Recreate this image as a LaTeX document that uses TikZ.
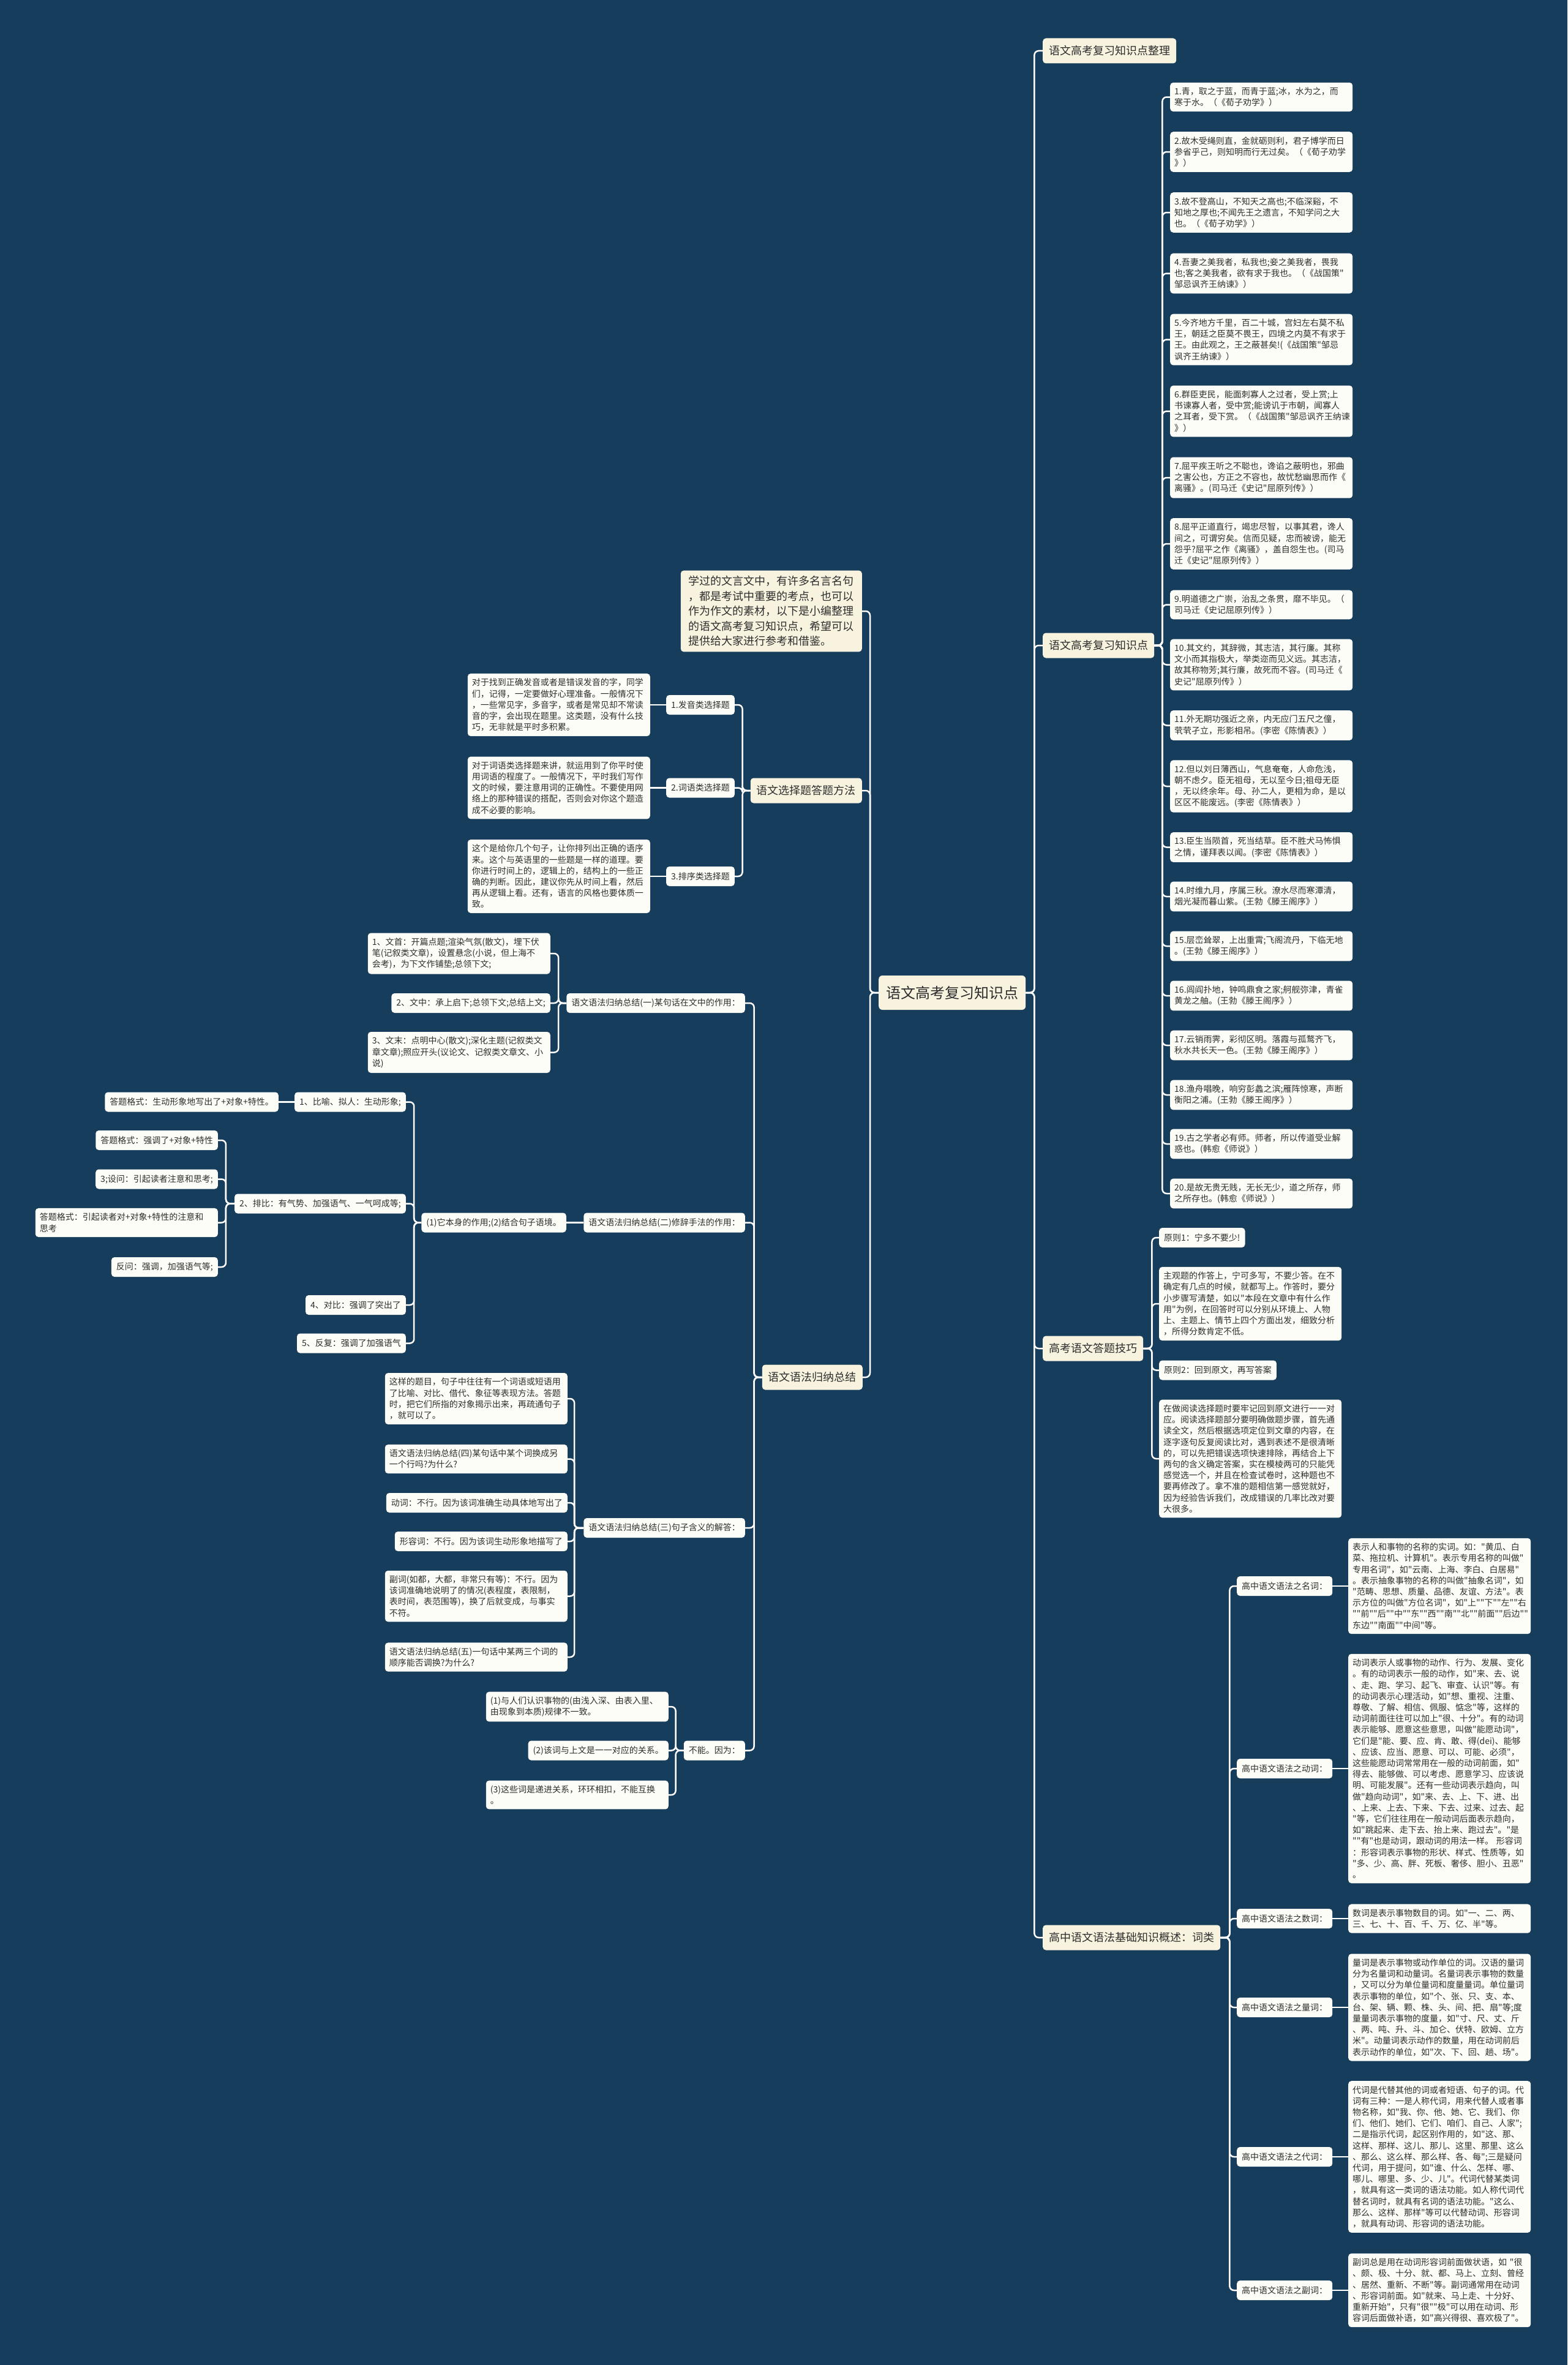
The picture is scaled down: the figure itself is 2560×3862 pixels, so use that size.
\documentclass[tikz,border=0pt]{standalone}
\usepackage{fontspec}
\setmainfont{Noto Sans CJK SC}[Ligatures=TeXOff]
\definecolor{bgcol}{RGB}{22,61,92}
\definecolor{creamcol}{RGB}{248,243,223}
\definecolor{leafcol}{RGB}{253,253,248}
\definecolor{txtcol}{RGB}{45,45,45}

\begin{document}
\begin{tikzpicture}[x=1pt, y=-1pt,
    link/.style={draw=white, line width=2.5pt, rounded corners=7pt},
    rootbox/.style={fill=creamcol, text=txtcol, rounded corners=6pt, font=\fontsize{24}{28}\selectfont, minimum height=56pt, inner xsep=12pt},
    mainbox/.style={fill=creamcol, text=txtcol, rounded corners=5pt, font=\fontsize{18}{22}\selectfont, minimum height=41pt, inner xsep=10pt},
    introbox/.style={fill=creamcol, text=txtcol, rounded corners=5pt, font=\fontsize{18}{24.5}\selectfont, align=left, inner xsep=13pt, inner ysep=9pt},
    tagbox/.style={fill=leafcol, text=txtcol, rounded corners=5pt, font=\fontsize{14}{18.2}\selectfont, minimum height=32pt, inner xsep=8pt},
    leafbox/.style={fill=leafcol, text=txtcol, rounded corners=5pt, font=\fontsize{14}{18.2}\selectfont, align=left, text width=284pt, inner xsep=7pt, inner ysep=8pt}]

    % --- 背景 ---
    \fill[bgcol] (0,0) rectangle (2560,3862);
    \useasboundingbox (0,0) rectangle (2560,3862);

    % --- 中心主题 ---
    \node[rootbox, anchor=west] (root) at (1435,1621) {语文高考复习知识点};

    % --- 右侧分支 ---
    \node[mainbox, anchor=west] (b1) at (1703,83) {语文高考复习知识点整理};
    \node[mainbox, anchor=west] (b2) at (1703,1054) {语文高考复习知识点};
    \node[mainbox, anchor=west] (b3) at (1703,2202) {高考语文答题技巧};
    \node[mainbox, anchor=west] (b4) at (1703,3164) {高中语文语法基础知识概述：词类};
    \foreach \b in {b1,b2,b3,b4} \draw[link] (root.east) -- ++(14,0) |- (\b.west);

    % 名句 1-20
    \node[leafbox, anchor=west] (q1) at (1911,158.5) {1.青，取之于蓝，而青于蓝;冰，水为之，而\\寒于水。（《荀子劝学》）};
    \node[leafbox, anchor=west] (q2) at (1911,248) {2.故木受绳则直，金就砺则利，君子博学而日\\参省乎己，则知明而行无过矣。（《荀子劝学\\》）};
    \node[leafbox, anchor=west] (q3) at (1911,347) {3.故不登高山，不知天之高也;不临深谿，不\\知地之厚也;不闻先王之遗言，不知学问之大\\也。（《荀子劝学》）};
    \node[leafbox, anchor=west] (q4) at (1911,446.5) {4.吾妻之美我者，私我也;妾之美我者，畏我\\也;客之美我者，欲有求于我也。（《战国策"\\邹忌讽齐王纳谏》）};
    \node[leafbox, anchor=west] (q5) at (1911,554.5) {5.今齐地方千里，百二十城，宫妇左右莫不私\\王，朝廷之臣莫不畏王，四境之内莫不有求于\\王。由此观之，王之蔽甚矣!(《战国策"邹忌\\讽齐王纳谏》）};
    \node[leafbox, anchor=west] (q6) at (1911,671.5) {6.群臣吏民，能面刺寡人之过者，受上赏;上\\书谏寡人者，受中赏;能谤讥于市朝，闻寡人\\之耳者，受下赏。（《战国策"邹忌讽齐王纳谏\\》）};
    \node[leafbox, anchor=west] (q7) at (1911,780) {7.屈平疾王听之不聪也，谗谄之蔽明也，邪曲\\之害公也，方正之不容也，故忧愁幽思而作《\\离骚》。(司马迁《史记"屈原列传》）};
    \node[leafbox, anchor=west] (q8) at (1911,888) {8.屈平正道直行，竭忠尽智，以事其君，谗人\\间之，可谓穷矣。信而见疑，忠而被谤，能无\\怨乎?屈平之作《离骚》，盖自怨生也。(司马\\迁《史记"屈原列传》）};
    \node[leafbox, anchor=west] (q9) at (1911,987.5) {9.明道德之广崇，治乱之条贯，靡不毕见。（\\司马迁《史记屈原列传》）};
    \node[leafbox, anchor=west] (q10) at (1911,1085.5) {10.其文约，其辞微，其志洁，其行廉。其称\\文小而其指极大，举类迩而见义远。其志洁，\\故其称物芳;其行廉，故死而不容。(司马迁《\\史记"屈原列传》）};
    \node[leafbox, anchor=west] (q11) at (1911,1184.5) {11.外无期功强近之亲，内无应门五尺之僮，\\茕茕孑立，形影相吊。(李密《陈情表》）};
    \node[leafbox, anchor=west] (q12) at (1911,1284) {12.但以刘日薄西山，气息奄奄，人命危浅，\\朝不虑夕。臣无祖母，无以至今日;祖母无臣\\，无以终余年。母、孙二人，更相为命，是以\\区区不能废远。(李密《陈情表》）};
    \node[leafbox, anchor=west] (q13) at (1911,1383.5) {13.臣生当陨首，死当结草。臣不胜犬马怖惧\\之情，谨拜表以闻。(李密《陈情表》）};
    \node[leafbox, anchor=west] (q14) at (1911,1464) {14.时维九月，序属三秋。潦水尽而寒潭清，\\烟光凝而暮山紫。(王勃《滕王阁序》）};
    \node[leafbox, anchor=west] (q15) at (1911,1545) {15.层峦耸翠，上出重霄;飞阁流丹，下临无地\\。(王勃《滕王阁序》）};
    \node[leafbox, anchor=west] (q16) at (1911,1626) {16.闾阎扑地，钟鸣鼎食之家;舸舰弥津，青雀\\黄龙之舳。(王勃《滕王阁序》）};
    \node[leafbox, anchor=west] (q17) at (1911,1707) {17.云销雨霁，彩彻区明。落霞与孤鹜齐飞，\\秋水共长天一色。(王勃《滕王阁序》）};
    \node[leafbox, anchor=west] (q18) at (1911,1788) {18.渔舟唱晚，响穷彭蠡之滨;雁阵惊寒，声断\\衡阳之浦。(王勃《滕王阁序》）};
    \node[leafbox, anchor=west] (q19) at (1911,1868) {19.古之学者必有师。师者，所以传道受业解\\惑也。(韩愈《师说》）};
    \node[leafbox, anchor=west] (q20) at (1911,1949) {20.是故无贵无贱，无长无少，道之所存，师\\之所存也。(韩愈《师说》）};
    \foreach \i in {1,...,20} \draw[link] (b2.east) -- ++(13,0) |- (q\i.west);

    % 答题技巧
    \node[tagbox, anchor=west] (r1) at (1893,2021) {原则1：宁多不要少!};
    \node[leafbox, anchor=west] (r2) at (1893,2129) {主观题的作答上，宁可多写，不要少答。在不\\确定有几点的时候，就都写上。作答时，要分\\小步骤写清楚，如以"本段在文章中有什么作\\用"为例，在回答时可以分别从环境上、人物\\上、主题上、情节上四个方面出发，细致分析\\，所得分数肯定不低。};
    \node[tagbox, anchor=west] (r3) at (1893,2237.5) {原则2：回到原文，再写答案};
    \node[leafbox, anchor=west] (r4) at (1893,2382) {在做阅读选择题时要牢记回到原文进行一一对\\应。阅读选择题部分要明确做题步骤，首先通\\读全文，然后根据选项定位到文章的内容，在\\逐字逐句反复阅读比对，遇到表述不是很清晰\\的，可以先把错误选项快速排除，再结合上下\\两句的含义确定答案，实在模棱两可的只能凭\\感觉选一个，并且在检查试卷时，这种题也不\\要再修改了。拿不准的题相信第一感觉就好，\\因为经验告诉我们，改成错误的几率比改对要\\大很多。};
    \foreach \i in {1,...,4} \draw[link] (b3.east) -- ++(14,0) |- (r\i.west);

    % 词类
    \node[tagbox, anchor=west] (w1) at (2020,2590) {高中语文语法之名词：};
    \node[tagbox, anchor=west] (w2) at (2020,2888) {高中语文语法之动词：};
    \node[tagbox, anchor=west] (w3) at (2020,3133) {高中语文语法之数词：};
    \node[tagbox, anchor=west] (w4) at (2020,3278) {高中语文语法之量词：};
    \node[tagbox, anchor=west] (w5) at (2020,3522) {高中语文语法之代词：};
    \node[tagbox, anchor=west] (w6) at (2020,3740) {高中语文语法之副词：};
    \node[leafbox, anchor=west] (v1) at (2202,2590) {表示人和事物的名称的实词。如："黄瓜、白\\菜、拖拉机、计算机"。表示专用名称的叫做"\\专用名词"，如"云南、上海、李白、白居易"\\。表示抽象事物的名称的叫做"抽象名词"，如\\"范畴、思想、质量、品德、友谊、方法"。表\\示方位的叫做"方位名词"，如"上""下""左""右\\""前""后""中""东""西""南""北""前面""后边""\\东边""南面""中间"等。};
    \node[leafbox, anchor=west] (v2) at (2202,2888) {动词表示人或事物的动作、行为、发展、变化\\。有的动词表示一般的动作，如"来、去、说\\、走、跑、学习、起飞、审查、认识"等。有\\的动词表示心理活动，如"想、重视、注重、\\尊敬、了解、相信、佩服、惦念"等，这样的\\动词前面往往可以加上"很、十分"。有的动词\\表示能够、愿意这些意思，叫做"能愿动词"，\\它们是"能、要、应、肯、敢、得(dei)、能够\\、应该、应当、愿意、可以、可能、必须"，\\这些能愿动词常常用在一般的动词前面，如"\\得去、能够做、可以考虑、愿意学习、应该说\\明、可能发展"。还有一些动词表示趋向，叫\\做"趋向动词"，如"来、去、上、下、进、出\\、上来、上去、下来、下去、过来、过去、起\\"等，它们往往用在一般动词后面表示趋向，\\如"跳起来、走下去、抬上来、跑过去"。"是\\""有"也是动词，跟动词的用法一样。~形容词\\：形容词表示事物的形状、样式、性质等，如\\"多、少、高、胖、死板、奢侈、胆小、丑恶"\\。};
    \node[leafbox, anchor=west] (v3) at (2202,3133) {数词是表示事物数目的词。如"一、二、两、\\三、七、十、百、千、万、亿、半"等。};
    \node[leafbox, anchor=west] (v4) at (2202,3278) {量词是表示事物或动作单位的词。汉语的量词\\分为名量词和动量词。名量词表示事物的数量\\，又可以分为单位量词和度量量词。单位量词\\表示事物的单位，如"个、张、只、支、本、\\台、架、辆、颗、株、头、间、把、扇"等;度\\量量词表示事物的度量，如"寸、尺、丈、斤\\、两、吨、升、斗、加仑、伏特、欧姆、立方\\米"。动量词表示动作的数量，用在动词前后\\表示动作的单位，如"次、下、回、趟、场"。};
    \node[leafbox, anchor=west] (v5) at (2202,3522) {代词是代替其他的词或者短语、句子的词。代\\词有三种：一是人称代词，用来代替人或者事\\物名称，如"我、你、他、她、它、我们、你\\们、他们、她们、它们、咱们、自己、人家";\\二是指示代词，起区别作用的，如"这、那、\\这样、那样、这儿、那儿、这里、那里、这么\\、那么、这么样、那么样、各、每";三是疑问\\代词，用于提问，如"谁、什么、怎样、哪、\\哪儿、哪里、多、少、儿"。代词代替某类词\\，就具有这一类词的语法功能。如人称代词代\\替名词时，就具有名词的语法功能。"这么、\\那么、这样、那样"等可以代替动词、形容词\\，就具有动词、形容词的语法功能。};
    \node[leafbox, anchor=west] (v6) at (2202,3740) {副词总是用在动词形容词前面做状语，如~"很\\、颇、极、十分、就、都、马上、立刻、曾经\\、居然、重新、不断"等。副词通常用在动词\\、形容词前面。如"就来、马上走、十分好、\\重新开始"，只有"很""极"可以用在动词、形\\容词后面做补语，如"高兴得很、喜欢极了"。};
    \foreach \i in {1,...,6} {
        \draw[link] (b4.east) -- ++(15,0) |- (w\i.west);
        \draw[link] (w\i.east) -- (w\i.east -| v\i.west);
    }

    % --- 左侧分支 ---
    \node[introbox, anchor=east] (l1) at (1408,998) {学过的文言文中，有许多名言名句\\，都是考试中重要的考点，也可以\\作为作文的素材，以下是小编整理\\的语文高考复习知识点，希望可以\\提供给大家进行参考和借鉴。};
    \node[mainbox, anchor=east] (l2) at (1408,1291) {语文选择题答题方法};
    \node[mainbox, anchor=east] (l3) at (1409,2249) {语文语法归纳总结};
    \foreach \b in {l1,l2,l3} \draw[link] (root.west) -- ++(-14,0) |- (\b.east);

    % 选择题
    \node[tagbox, anchor=east] (c1) at (1200,1151) {1.发音类选择题};
    \node[tagbox, anchor=east] (c2) at (1200,1286.5) {2.词语类选择题};
    \node[tagbox, anchor=east] (c3) at (1200,1431) {3.排序类选择题};
    \node[leafbox, anchor=east] (d1) at (1062,1151) {对于找到正确发音或者是错误发音的字，同学\\们，记得，一定要做好心理准备。一般情况下\\，一些常见字，多音字，或者是常见却不常读\\音的字，会出现在题里。这类题，没有什么技\\巧，无非就是平时多积累。};
    \node[leafbox, anchor=east] (d2) at (1062,1286.5) {对于词语类选择题来讲，就运用到了你平时使\\用词语的程度了。一般情况下，平时我们写作\\文的时候，要注意用词的正确性。不要使用网\\络上的那种错误的搭配，否则会对你这个题造\\成不必要的影响。};
    \node[leafbox, anchor=east] (d3) at (1062,1431) {这个是给你几个句子，让你排列出正确的语序\\来。这个与英语里的一些题是一样的道理。要\\你进行时间上的，逻辑上的，结构上的一些正\\确的判断。因此，建议你先从时间上看，然后\\再从逻辑上看。还有，语言的风格也要体质一\\致。};
    \foreach \i in {1,2,3} {
        \draw[link] (l2.west) -- ++(-13,0) |- (c\i.east);
        \draw[link] (c\i.west) -- (c\i.west -| d\i.east);
    }

    % 语法归纳总结
    \node[tagbox, anchor=east] (g1) at (1217,1638) {语文语法归纳总结(一)某句话在文中的作用：};
    \node[tagbox, anchor=east] (g2) at (1217,1996.5) {语文语法归纳总结(二)修辞手法的作用：};
    \node[tagbox, anchor=east] (g3) at (1217,2495) {语文语法归纳总结(三)句子含义的解答：};
    \node[tagbox, anchor=east] (g4) at (1217,2858.5) {不能。因为：};
    \foreach \i in {1,...,4} \draw[link] (l3.west) -- ++(-13,0) |- (g\i.east);

    % (一)
    \node[leafbox, anchor=east] (e1) at (899,1557) {1、文首：开篇点题;渲染气氛(散文)，埋下伏\\笔(记叙类文章)，设置悬念(小说，但上海不\\会考)，为下文作铺垫;总领下文;};
    \node[tagbox, anchor=east] (e2) at (899,1638) {2、文中：承上启下;总领下文;总结上文;};
    \node[leafbox, anchor=east] (e3) at (899,1718.5) {3、文末：点明中心(散文);深化主题(记叙类文\\章文章);照应开头(议论文、记叙类文章文、小\\说)};
    \foreach \i in {1,2,3} \draw[link] (g1.west) -- ++(-13,0) |- (e\i.east);

    % (二)
    \node[tagbox, anchor=east] (h) at (925,1996.5) {(1)它本身的作用;(2)结合句子语境。};
    \draw[link] (g2.west) -- (g2.west -| h.east);
    \node[tagbox, anchor=east] (k1) at (663,1799.5) {1、比喻、拟人：生动形象;};
    \node[tagbox, anchor=east] (k1a) at (455,1799.5) {答题格式：生动形象地写出了+对象+特性。};
    \node[tagbox, anchor=east] (k2) at (663,1965.5) {2、排比：有气势、加强语气、一气呵成等;};
    \node[tagbox, anchor=east] (k4) at (663,2131) {4、对比：强调了突出了};
    \node[tagbox, anchor=east] (k5) at (663,2193.5) {5、反复：强调了加强语气};
    \foreach \k in {k1,k2,k4,k5} \draw[link] (h.west) -- ++(-12,0) |- (\k.east);
    \draw[link] (k1.west) -- (k1.west -| k1a.east);
    \node[tagbox, anchor=east] (m1) at (356,1862) {答题格式：强调了+对象+特性};
    \node[tagbox, anchor=east] (m2) at (356,1925.5) {3;设问：引起读者注意和思考;};
    \node[leafbox, anchor=east] (m3) at (356,1996.5) {答题格式：引起读者对+对象+特性的注意和\\思考};
    \node[tagbox, anchor=east] (m4) at (356,2069) {反问：强调，加强语气等;};
    \foreach \i in {1,...,4} \draw[link] (k2.west) -- ++(-14,0) |- (m\i.east);

    % (三)
    \node[leafbox, anchor=east] (n1) at (927,2284) {这样的题目，句子中往往有一个词语或短语用\\了比喻、对比、借代、象征等表现方法。答题\\时，把它们所指的对象揭示出来，再疏通句子\\，就可以了。};
    \node[leafbox, anchor=east] (n2) at (927,2382.5) {语文语法归纳总结(四)某句话中某个词换成另\\一个行吗?为什么?};
    \node[tagbox, anchor=east] (n3) at (927,2454) {动词：不行。因为该词准确生动具体地写出了};
    \node[tagbox, anchor=east] (n4) at (927,2517) {形容词：不行。因为该词生动形象地描写了};
    \node[leafbox, anchor=east] (n5) at (927,2606.5) {副词(如都，大都，非常只有等)：不行。因为\\该词准确地说明了的情况(表程度，表限制，\\表时间，表范围等)，换了后就变成，与事实\\不符。};
    \node[leafbox, anchor=east] (n6) at (927,2706) {语文语法归纳总结(五)一句话中某两三个词的\\顺序能否调换?为什么?};
    \foreach \i in {1,...,6} \draw[link] (g3.west) -- ++(-15,0) |- (n\i.east);

    % 不能。因为
    \node[leafbox, anchor=east] (p1) at (1092,2787) {(1)与人们认识事物的(由浅入深、由表入里、\\由现象到本质)规律不一致。};
    \node[tagbox, anchor=east] (p2) at (1092,2858.5) {(2)该词与上文是一一对应的关系。};
    \node[leafbox, anchor=east] (p3) at (1092,2931) {(3)这些词是递进关系，环环相扣，不能互换\\。};
    \foreach \i in {1,2,3} \draw[link] (g4.west) -- ++(-13,0) |- (p\i.east);

\end{tikzpicture}
\end{document}
